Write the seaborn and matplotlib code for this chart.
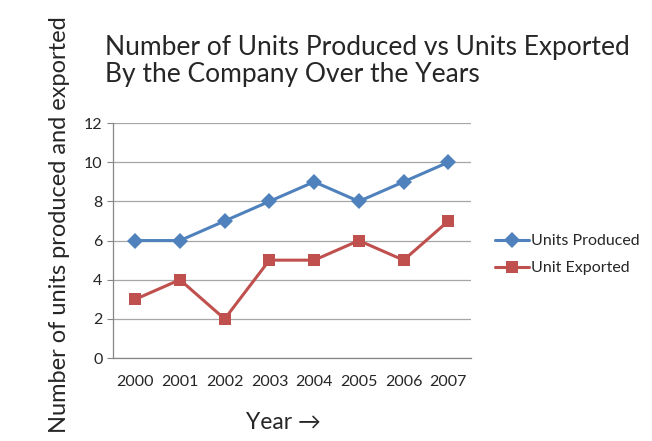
import seaborn as sns
import matplotlib.pyplot as plt
import pandas as pd
import numpy as np

years = ['2000', '2001', '2002', '2003', '2004', '2005', '2006', '2007']
units_produced = [6, 6, 7, 8, 9, 8, 9, 10]
unit_exported = [3, 4, 2, 5, 5, 6, 5, 7]

df = pd.DataFrame({
    'pos': list(range(len(years))) * 2,
    'value': units_produced + unit_exported,
    'series': ['Units Produced'] * len(years) + ['Unit Exported'] * len(years),
})

sns.set_style('white')
plt.rcParams['font.family'] = ['Lato', 'DejaVu Sans']

fig = plt.figure(figsize=(6.52, 4.41), dpi=100)
ax = fig.add_axes([0.173, 0.188, 0.549, 0.533])

sns.lineplot(data=df, x='pos', y='value', hue='series', style='series',
             palette={'Units Produced': '#4F81BD', 'Unit Exported': '#C0504D'},
             markers={'Units Produced': 'D', 'Unit Exported': 's'},
             dashes=False, linewidth=2.2, markersize=8, markeredgewidth=0,
             ax=ax)

ax.set_xlim(-0.5, len(years) - 0.5)
ax.set_ylim(0, 12)
ax.set_yticks(range(0, 13, 2))
ax.set_xticks(range(len(years)))
ax.set_xticklabels(years)
ax.set_xticks(np.arange(-0.5, len(years), 1), minor=True)
ax.tick_params(axis='x', which='major', length=0, labelsize=11.5, pad=12)
ax.tick_params(axis='x', which='minor', length=4, color='#868686', direction='out')
ax.tick_params(axis='y', length=4, color='#868686', direction='out', labelsize=11.5, left=True)
ax.grid(axis='y', color='#A6A6A6', linewidth=0.9)
for s in ['top', 'right']:
    ax.spines[s].set_visible(False)
for s in ['left', 'bottom']:
    ax.spines[s].set_color('#868686')
    ax.spines[s].set_linewidth(0.9)

ax.set_xlabel('')
ax.set_ylabel('')
fig.text(0.434, 0.043, 'Year \u2192', fontsize=16.5, ha='center', va='center')
fig.text(0.092, 0.49, 'Number of units produced and exported', rotation=90,
         fontsize=17, ha='center', va='center')
fig.text(0.161, 0.861, 'Number of Units Produced vs Units Exported\nBy the Company Over the Years',
         fontsize=19, ha='left', va='center', linespacing=1.1)

leg = ax.legend(loc='center left', bbox_to_anchor=(1.05, 0.44), frameon=False,
                borderaxespad=0, fontsize=11.5, handlelength=2.1,
                handletextpad=0.15, labelspacing=0.8)

fig.savefig('out.png', dpi=100)
